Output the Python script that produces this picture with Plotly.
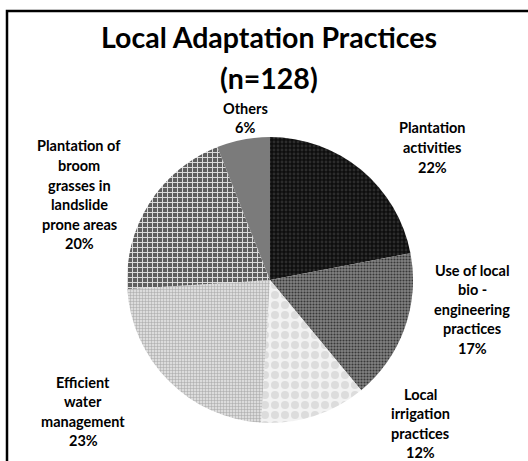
import plotly.graph_objects as go

# ---- data ----
categories = [
    "Plantation activities",
    "Use of local bio - engineering practices",
    "Local irrigation practices",
    "Efficient water management",
    "Plantation of broom grasses in landslide prone areas",
    "Others",
]
label_lines = [
    ["Plantation", "activities"],
    ["Use of local", "bio -", "engineering", "practices"],
    ["Local", "irrigation", "practices"],
    ["Efficient", "water", "management"],
    ["Plantation of", "broom", "grasses in", "landslide", "prone areas"],
    ["Others"],
]
values = [22, 17, 12, 23, 20, 6]
title_lines = ["Local Adaptation Practices", "(n=128)"]

# ---- styles ----
W, H = 528, 461
base_colors = ["#0e0e0e", "#828282", "#f2f2f2", "#dcdcdc", "#5e5e5e", "#7b7b7b"]
pat_shapes = [".", ".", ".", "+", "+", ""]
pat_fg = ["#2c2c2c", "#383838", "#dcdcdc", "#a4a4a4", "#dddddd", "#7b7b7b"]
pat_size = [4, 3, 10, 3, 5, 8]
pat_solid = [0.4, 0.4, 0.5, 0.3, 0.35, 0.3]

# label anchor positions (pixels: center x, first-line center y)
label_pos = [(432, 128), (472, 270), (420, 394), (83, 382), (79, 146), (245, 108)]
line_h = 19.5

cx, cy, r = 270, 280, 143

fig = go.Figure(
    go.Pie(
        labels=categories,
        values=values,
        sort=False,
        direction="clockwise",
        rotation=0,
        textinfo="none",
        hoverinfo="label+percent",
        showlegend=False,
        marker=dict(
            colors=base_colors,
            line=dict(width=0),
            pattern=dict(
                shape=pat_shapes,
                fgcolor=pat_fg,
                bgcolor=base_colors,
                size=pat_size,
                solidity=pat_solid,
                fillmode="replace",
            ),
        ),
        domain=dict(
            x=[(cx - r) / W, (cx + r) / W],
            y=[1 - (cy + r) / H, 1 - (cy - r) / H],
        ),
    )
)

font_family = "Lato, 'Open Sans', sans-serif"
annotations = []
total = sum(values)
for lines, v, (lx, ly) in zip(label_lines, values, label_pos):
    all_lines = lines + [f"{round(100 * v / total)}%"]
    for i, t in enumerate(all_lines):
        annotations.append(dict(
            x=lx / W, y=1 - (ly + i * line_h) / H, xref="paper", yref="paper",
            text=f"<b>{t}</b>", showarrow=False, xanchor="center", yanchor="middle",
            font=dict(family=font_family, size=14.5, color="#000000"),
        ))

for t, ty in zip(title_lines, [37, 78]):
    annotations.append(dict(
        x=269 / W, y=1 - ty / H, xref="paper", yref="paper",
        text=f"<b>{t}</b>", showarrow=False, xanchor="center", yanchor="middle",
        font=dict(family=font_family, size=28.5, color="#000000"),
    ))

fig.update_layout(
    width=W, height=H,
    margin=dict(l=0, r=0, t=0, b=0),
    paper_bgcolor="white",
    plot_bgcolor="white",
    annotations=annotations,
    shapes=[dict(
        type="rect", xref="paper", yref="paper",
        x0=7 / W, y0=-0.05, x1=1.05, y1=1 - 11 / H,
        line=dict(color="black", width=2.5), fillcolor="rgba(0,0,0,0)",
    )],
)

fig.write_html(
    "out.html",
    config={"displayModeBar": False},
    post_script="document.body.style.margin='0';document.body.style.padding='0';",
)
